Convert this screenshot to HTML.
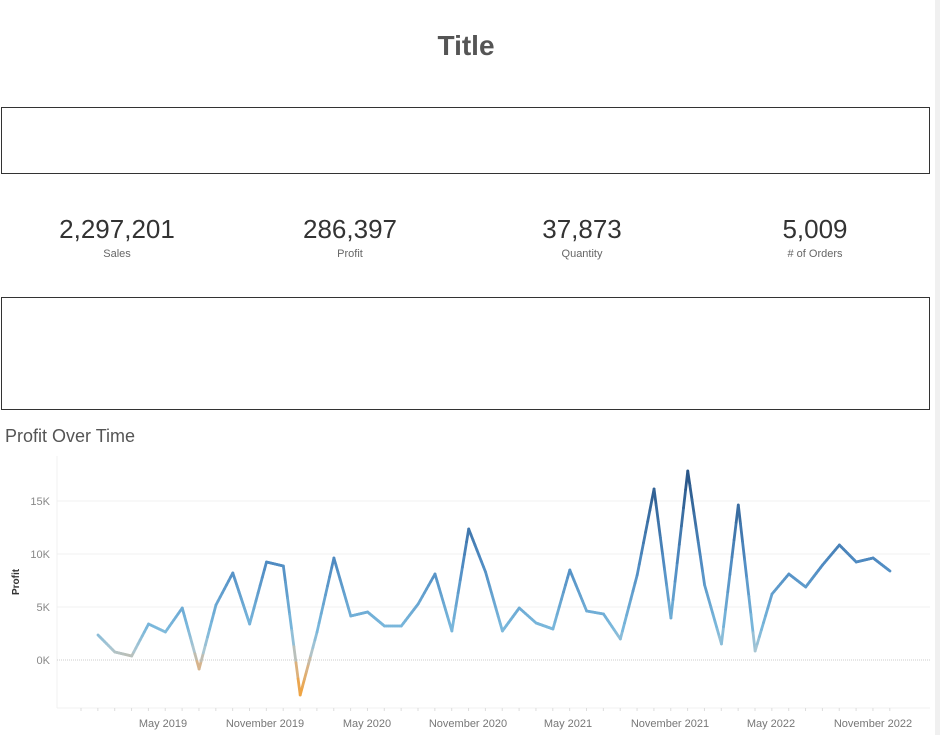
<!DOCTYPE html>
<html><head><meta charset="utf-8"><style>
body{margin:0;width:940px;height:735px;background:#fff;font-family:"Liberation Sans",sans-serif;overflow:hidden;position:relative}
.t{position:absolute;left:0;width:932px;text-align:center;top:30px;font-size:28px;font-weight:bold;color:#555}
.box{position:absolute;left:1px;width:929px;border:1px solid #333;box-sizing:border-box}
.k{position:absolute;top:212px;width:230px;text-align:center;color:#333}
.k .v{font-size:26px;line-height:34px}
.k .l{font-size:11px;color:#666;margin-top:2px}
.strip{position:absolute;left:935px;top:0;width:5px;height:735px;background:#f0f0f0}
</style></head><body>
<div class="t">Title</div>
<div class="box" style="top:107px;height:67px"></div>
<div class="k" style="left:2px"><div class="v">2,297,201</div><div class="l">Sales</div></div>
<div class="k" style="left:235px"><div class="v">286,397</div><div class="l">Profit</div></div>
<div class="k" style="left:467px"><div class="v">37,873</div><div class="l">Quantity</div></div>
<div class="k" style="left:700px"><div class="v">5,009</div><div class="l"># of Orders</div></div>
<div class="box" style="top:297px;height:113px"></div>
<div class="strip"></div>
<svg id="c" width="940" height="735" style="position:absolute;left:0;top:0" font-family="Liberation Sans, sans-serif">
<text x="5" y="442" font-size="18" fill="#555">Profit Over Time</text>
<line x1="57" y1="456" x2="57" y2="708" stroke="#f2f2f2"/>
<g stroke="#f0f0f0"><line x1="57" y1="501" x2="930" y2="501"/><line x1="57" y1="554" x2="930" y2="554"/><line x1="57" y1="607" x2="930" y2="607"/><line x1="57" y1="708" x2="930" y2="708"/></g>
<line x1="57" y1="660" x2="930" y2="660" stroke="#ccc" stroke-dasharray="1,1"/>
<g font-size="11" fill="#888" text-anchor="end"><text x="50" y="505">15K</text><text x="50" y="558">10K</text><text x="50" y="611">5K</text><text x="50" y="664">0K</text></g>
<text transform="translate(19,582) rotate(-90)" font-size="10" font-weight="bold" fill="#333" text-anchor="middle">Profit</text>
<g font-size="11" fill="#777" text-anchor="middle"><text x="163" y="727">May 2019</text><text x="265" y="727">November 2019</text><text x="367" y="727">May 2020</text><text x="468" y="727">November 2020</text><text x="568" y="727">May 2021</text><text x="670" y="727">November 2021</text><text x="771" y="727">May 2022</text><text x="873" y="727">November 2022</text></g>
<g id="s"></g>
</svg>
<script>
var ys=[635,652,656,624,632,608,669,605,573,624,562,566,695,632,558,616,612,626,626,604,574,631,529,572,631,608,623,629,570,611,614,639,575,489,618,471,585,644,505,651,594,574,587,565,545,562,558,571];
function col(y){var v=(660-y)/10.6;var a,b,t;
var st=[[-3.5,[245,160,50]],[-0.5,[215,180,140]],[1,[170,198,210]],[3,[122,184,220]],[9,[80,140,195]],[17.5,[40,85,135]]];
for(var i=0;i<st.length-1;i++){if(v<=st[i+1][0]||i==st.length-2){a=st[i];b=st[i+1];break;}}
t=Math.max(0,Math.min(1,(v-a[0])/(b[0]-a[0])));
return'rgb('+a[1].map(function(c,j){return Math.round(c+(b[1][j]-c)*t)}).join(',')+')';}
var h='';
for(var m=0;m<49;m++){var x=81+m*16.85;h+='<line x1="'+x+'" y1="708" x2="'+x+'" y2="711" stroke="#ddd"/>';}
for(var i=0;i<ys.length-1;i++){var x1=98+i*16.85,x2=x1+16.85,y1=ys[i],y2=ys[i+1];
var n=8;for(var k=0;k<n;k++){var ax=x1+(x2-x1)*k/n,ay=y1+(y2-y1)*k/n,bx=x1+(x2-x1)*(k+1)/n,by=y1+(y2-y1)*(k+1)/n;
h+='<line x1="'+ax+'" y1="'+ay+'" x2="'+bx+'" y2="'+by+'" stroke="'+col((ay+by)/2)+'" stroke-width="2.8" stroke-linecap="round"/>';}}
document.getElementById('s').innerHTML=h;
</script>
</body></html>
